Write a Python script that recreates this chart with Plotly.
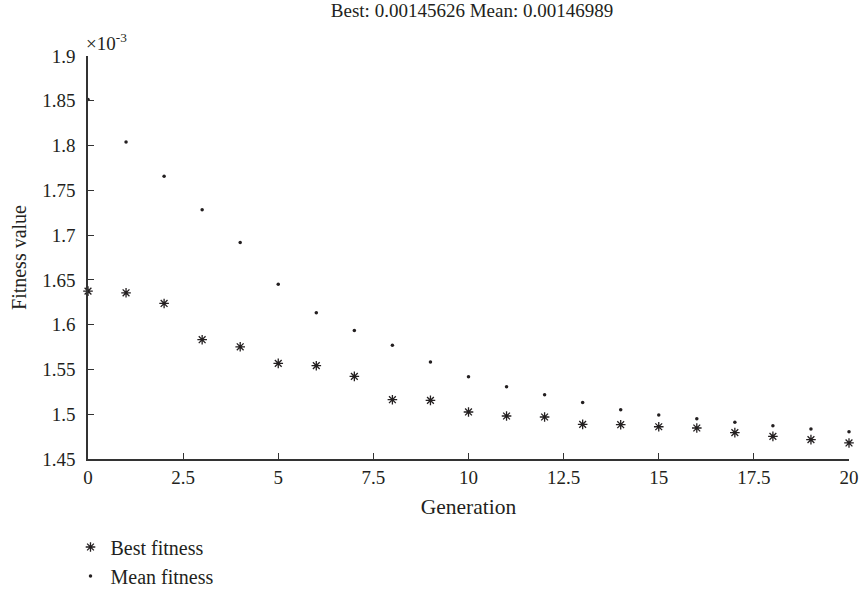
import plotly.graph_objects as go

generation = list(range(21))
best_fitness = [1.6375, 1.6356, 1.6237, 1.5832, 1.5753, 1.5568, 1.5542, 1.5423, 1.5162, 1.5155,
                1.5025, 1.4980, 1.4969, 1.4887, 1.4883, 1.4860, 1.4846, 1.4794, 1.4753, 1.4716, 1.4679]
mean_fitness = [1.8514, 1.8041, 1.7658, 1.7282, 1.6918, 1.6450, 1.6133, 1.5936, 1.5769, 1.5583,
                1.5419, 1.5307, 1.5218, 1.5132, 1.5050, 1.4991, 1.4950, 1.4910, 1.4872, 1.4835, 1.4805]
title_text = "Best: 0.00145626 Mean: 0.00146989"

FONT = "Liberation Serif"
INK = "#231f20"

fig = go.Figure()
fig.add_trace(go.Scatter(
    x=generation, y=best_fitness, mode="markers", name="Best fitness", cliponaxis=False,
    marker=dict(symbol="asterisk-open", size=8, color=INK, line=dict(width=1.3, color=INK)),
))
fig.add_trace(go.Scatter(
    x=generation, y=mean_fitness, mode="markers", name="Mean fitness", cliponaxis=False,
    marker=dict(symbol="circle", size=3.5, color=INK),
))

fig.update_layout(
    width=862, height=590,
    margin=dict(l=88, r=13, t=56, b=131, autoexpand=False),
    paper_bgcolor="white", plot_bgcolor="white",
    font=dict(family=FONT, size=19, color=INK),
    title=dict(text=title_text, x=0.5476, xanchor="center", xref="container",
               y=0.982, yanchor="middle", yref="container",
               font=dict(family=FONT, size=19, color=INK)),
    showlegend=True,
    legend=dict(x=-0.023, xanchor="left", y=-0.17, yanchor="top",
                font=dict(family=FONT, size=20, color=INK),
                bgcolor="rgba(0,0,0,0)", tracegroupgap=0),
    annotations=[dict(text="×10<sup>-3</sup>", xref="paper", yref="paper", x=0, y=1.0,
                      xanchor="left", yanchor="bottom", showarrow=False,
                      font=dict(family=FONT, size=19, color=INK), yshift=0, xshift=-4)],
)
fig.update_xaxes(
    range=[0, 20], dtick=2.5, tick0=0, showgrid=False, zeroline=False, automargin=False,
    showline=True, linecolor="#333333", linewidth=1.5,
    ticks="inside", ticklen=6, tickcolor="#333333", tickwidth=1.2,
    tickfont=dict(family=FONT, size=19, color=INK),
    title=dict(text="Generation", font=dict(family=FONT, size=21.5, color=INK), standoff=12),
)
fig.update_yaxes(
    range=[1.45, 1.9], dtick=0.05, tick0=1.45, showgrid=False, zeroline=False, automargin=False,
    showline=True, linecolor="#333333", linewidth=1.5,
    ticks="inside", ticklen=6, tickcolor="#333333", tickwidth=1.2,
    tickfont=dict(family=FONT, size=19, color=INK), ticklabelstandoff=7,
    title=dict(text="Fitness value", font=dict(family=FONT, size=20, color=INK), standoff=10),
)

fig.write_html("out.html", config={"displayModeBar": False},
               post_script="document.body.style.margin='0';")
